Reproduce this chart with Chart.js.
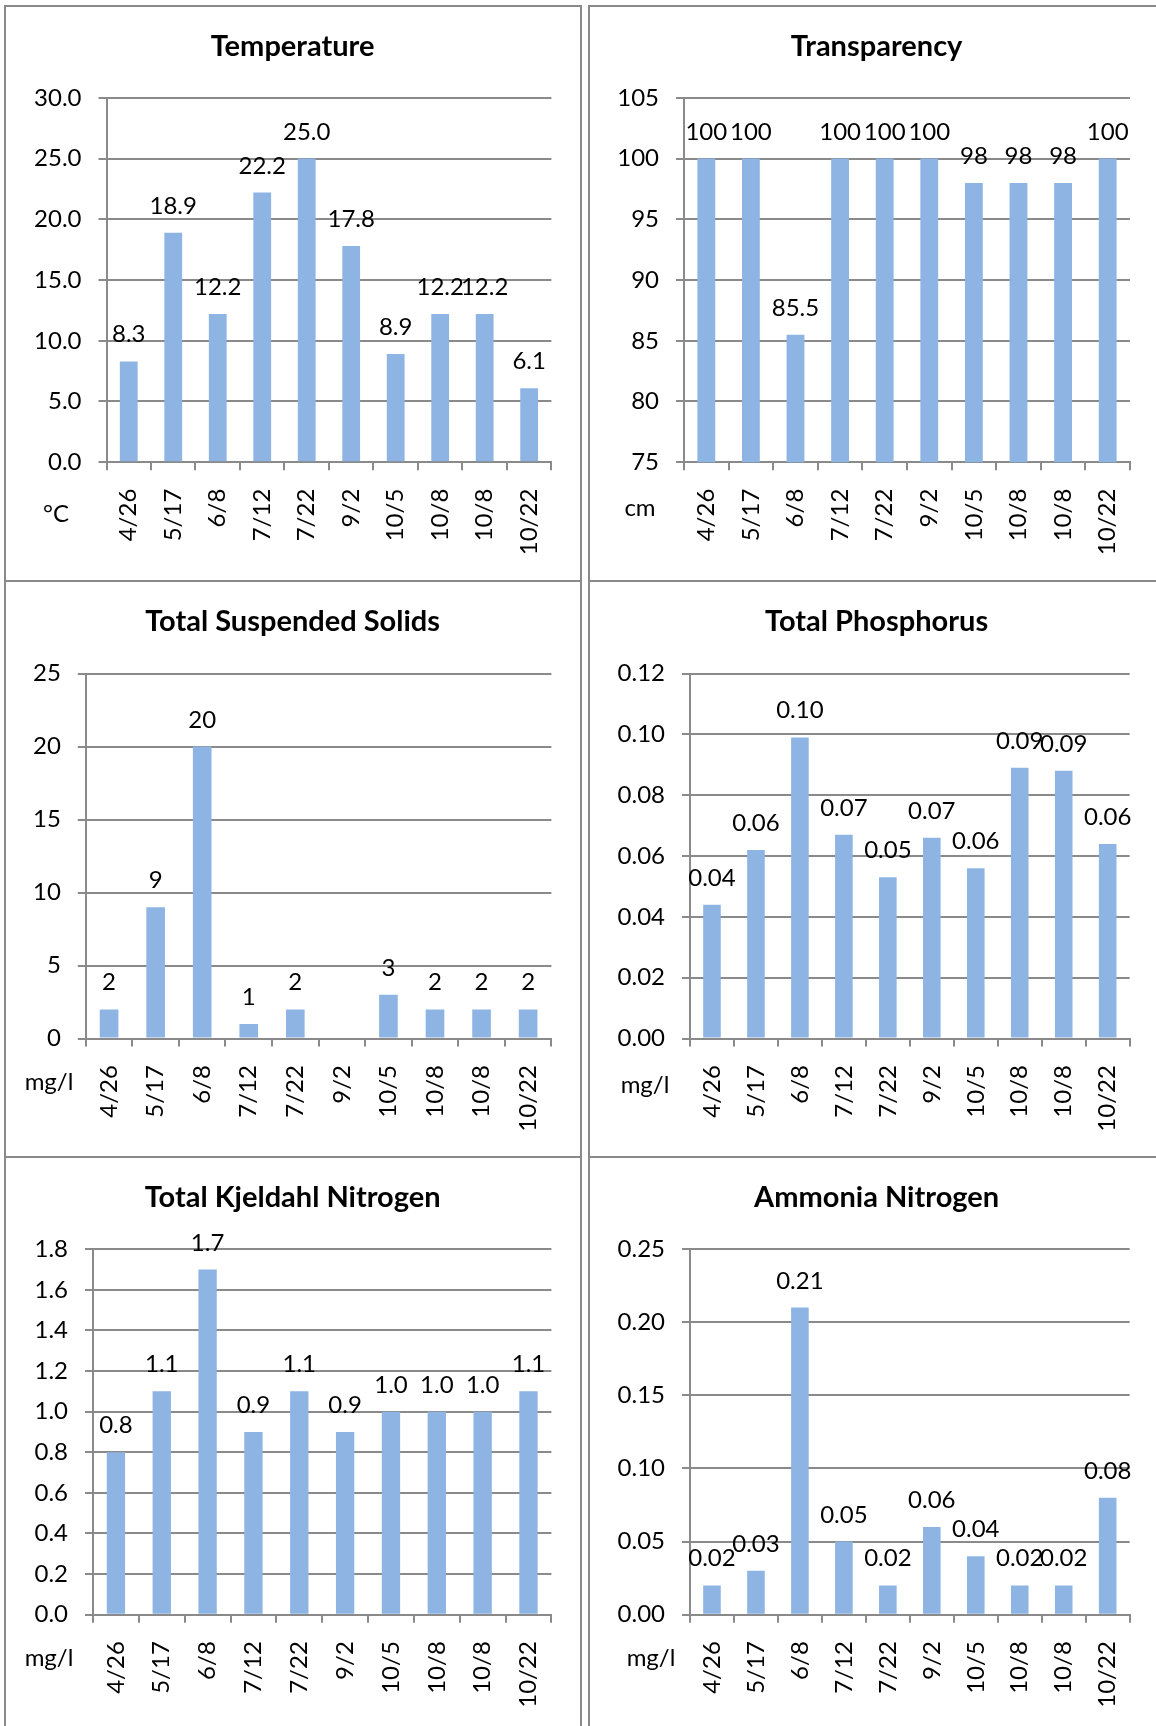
<!DOCTYPE html>
<html>
<head>
<meta charset="utf-8">
<script src="https://cdn.jsdelivr.net/npm/chart.js@4.4.1/dist/chart.umd.min.js"></script>
<style>
  html, body { margin: 0; padding: 0; background: #ffffff; }
  #page { position: relative; width: 1156px; height: 1726px; overflow: hidden; background: #ffffff; }
  .rule { position: absolute; background: #8a8a8a; }
  canvas { position: absolute; }
</style>
</head>
<body>
<div id="page"></div>
<script>
// Sampling dates shared by every panel
const dates = ['4/26', '5/17', '6/8', '7/12', '7/22', '9/2', '10/5', '10/8', '10/8', '10/22'];

// Measured values per parameter
const temperature     = [8.3, 18.9, 12.2, 22.2, 25.0, 17.8, 8.9, 12.2, 12.2, 6.1];
const transparency    = [100, 100, 85.5, 100, 100, 100, 98, 98, 98, 100];
const suspendedSolids = [2, 9, 20, 1, 2, null, 3, 2, 2, 2];
const phosphorus      = [0.044, 0.062, 0.099, 0.067, 0.053, 0.066, 0.056, 0.089, 0.088, 0.064];
const kjeldahlN       = [0.8, 1.1, 1.7, 0.9, 1.1, 0.9, 1.0, 1.0, 1.0, 1.1];
const ammoniaN        = [0.02, 0.03, 0.21, 0.05, 0.02, 0.06, 0.04, 0.02, 0.02, 0.08];

// Value-axis ranges: [min, max, step]
const temperatureAxis  = [0, 30, 5];
const transparencyAxis = [75, 105, 5];
const solidsAxis       = [0, 25, 5];
const phosphorusAxis   = [0, 0.12, 0.02];
const kjeldahlAxis     = [0, 1.8, 0.2];
const ammoniaAxis      = [0, 0.25, 0.05];

const GRID = '#8a8a8a';
const BAR = 'rgb(141,180,227)';
const FONT = 'Lato';

const page = document.getElementById('page');

// Table rules around the six cells
function rule(x, y, w, h) {
  const d = document.createElement('div');
  d.className = 'rule';
  d.style.left = x + 'px'; d.style.top = y + 'px';
  d.style.width = w + 'px'; d.style.height = h + 'px';
  page.appendChild(d);
}
rule(4, 5, 578, 2);
rule(588, 5, 568, 2);
rule(4, 5, 2, 1721);
rule(580, 5, 2, 1721);
rule(588, 5, 2, 1721);
rule(4, 580, 578, 2);
rule(588, 580, 568, 2);
rule(4, 1156, 578, 2);
rule(588, 1156, 568, 2);

function fmt(v, dec) {
  if (dec === 'auto') return Number.isInteger(v) ? String(v) : v.toFixed(1);
  return v.toFixed(dec);
}

// Panel heading, value labels above each bar and the unit caption beside the date labels
const annotate = {
  id: 'annotate',
  afterDatasetsDraw(chart, args, opts) {
    const ctx = chart.ctx;
    const meta = chart.getDatasetMeta(0);
    const data = chart.data.datasets[0].data;
    ctx.save();
    ctx.fillStyle = '#000';
    ctx.textAlign = 'center';
    ctx.textBaseline = 'alphabetic';

    ctx.font = 'bold 29px ' + FONT;
    ctx.fillText(opts.title, 286.6, 48.5);

    ctx.font = '24px ' + FONT;
    meta.data.forEach((bar, i) => {
      const v = data[i];
      if (v === null || v === undefined) return;
      ctx.fillText(fmt(v, opts.decimals), bar.x, bar.y - 19);
    });
    ctx.textBaseline = 'middle';
    ctx.fillText(opts.unit, opts.unitX, opts.unitY);
    ctx.restore();
  }
};

const panels = [
  { title: 'Temperature', values: temperature, axis: temperatureAxis, tickDec: 1, labelDec: 1, unit: '°C',
    x: 6, y: 7, w: 574, h: 573, left: 100.5, top: 90.9, padR: 28.6, bottomH: 117.8, unitX: 50, unitY: 507 },
  { title: 'Transparency', values: transparency, axis: transparencyAxis, tickDec: 0, labelDec: 'auto', unit: 'cm',
    x: 590, y: 7, w: 566, h: 573, left: 94, top: 90.9, padR: 20.5, bottomH: 117.8, unitX: 50, unitY: 501 },
  { title: 'Total Suspended Solids', values: suspendedSolids, axis: solidsAxis, tickDec: 0, labelDec: 0, unit: 'mg/l',
    x: 6, y: 582, w: 574, h: 574, left: 79.8, top: 91.5, padR: 28.6, bottomH: 117.4, unitX: 43, unitY: 500 },
  { title: 'Total Phosphorus', values: phosphorus, axis: phosphorusAxis, tickDec: 2, labelDec: 2, unit: 'mg/l',
    x: 590, y: 582, w: 566, h: 574, left: 100, top: 91.5, padR: 20.5, bottomH: 117.4, unitX: 55, unitY: 503 },
  { title: 'Total Kjeldahl Nitrogen', values: kjeldahlN, axis: kjeldahlAxis, tickDec: 1, labelDec: 1, unit: 'mg/l',
    x: 6, y: 1158, w: 574, h: 568, left: 87, top: 91.2, padR: 28.6, bottomH: 111.3, unitX: 43, unitY: 500 },
  { title: 'Ammonia Nitrogen', values: ammoniaN, axis: ammoniaAxis, tickDec: 2, labelDec: 2, unit: 'mg/l',
    x: 590, y: 1158, w: 566, h: 568, left: 100, top: 91, padR: 20.5, bottomH: 111.3, unitX: 61, unitY: 500 }
];

panels.forEach(p => {
  const cv = document.createElement('canvas');
  cv.width = p.w; cv.height = p.h;
  cv.style.left = p.x + 'px'; cv.style.top = p.y + 'px';
  cv.style.width = p.w + 'px'; cv.style.height = p.h + 'px';
  page.appendChild(cv);

  new Chart(cv.getContext('2d'), {
    type: 'bar',
    data: {
      labels: dates,
      datasets: [{
        data: p.values,
        backgroundColor: BAR,
        borderWidth: 0,
        categoryPercentage: 1.0,
        barPercentage: 0.4
      }]
    },
    plugins: [annotate],
    options: {
      responsive: false,
      animation: false,
      devicePixelRatio: 1,
      layout: { padding: { left: 0, top: p.top, right: p.padR, bottom: 0 } },
      plugins: {
        legend: { display: false },
        tooltip: { enabled: false },
        title: { display: false },
        annotate: { title: p.title, decimals: p.labelDec, unit: p.unit, unitX: p.unitX, unitY: p.unitY }
      },
      scales: {
        x: {
          offset: true,
          grid: { display: true, offset: true, drawOnChartArea: false, drawTicks: true, tickLength: 8, color: GRID, lineWidth: 2 },
          border: { display: true, color: GRID, width: 2 },
          ticks: {
            autoSkip: false, minRotation: 90, maxRotation: 90, padding: 18.5,
            color: '#000', font: { family: FONT, size: 24 }
          },
          afterFit: s => { s.height = p.bottomH; }
        },
        y: {
          min: p.axis[0], max: p.axis[1],
          grid: { color: GRID, lineWidth: 2, drawTicks: true, tickLength: 8 },
          border: { display: true, color: GRID, width: 2 },
          ticks: {
            stepSize: p.axis[2], padding: 17,
            color: '#000', font: { family: FONT, size: 24 },
            callback: v => Number(v).toFixed(p.tickDec)
          },
          afterFit: s => { s.width = p.left; }
        }
      }
    }
  });
});
</script>
</body>
</html>
